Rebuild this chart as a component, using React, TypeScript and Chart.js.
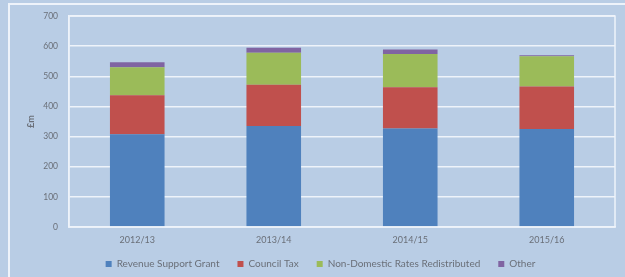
import React, { useEffect, useRef } from "react";
import { Chart, registerables } from "chart.js";

Chart.register(...registerables);

const categories = ["2012/13", "2013/14", "2014/15", "2015/16"];
const revenueSupportGrant = [308, 335, 327, 325];
const councilTax = [129, 137, 137, 141];
const nonDomesticRates = [93, 106, 110, 101];
const other = [17, 17, 15, 3];
const yTicks = [0, 100, 200, 300, 400, 500, 600, 700];

const BG = "#b9cde5";
const TEXT = "#6a6f78";
const FONT = "Lato, 'Open Sans', sans-serif";

const frame = {
  id: "frame",
  afterLayout(chart: any) {
    // nudge legend row (legend padding also sets horizontal gaps)
    const lg = chart.legend;
    if (lg) {
      lg.top -= 6;
      lg.bottom -= 6;
      lg.left += 13;
      lg.right += 13;
    }
  },
  afterDraw(chart: any) {
    const { ctx, chartArea } = chart;
    ctx.save();
    ctx.strokeStyle = "#eef3fa";
    ctx.lineWidth = 1.5;
    ctx.strokeRect(chartArea.left, chartArea.top, chartArea.right - chartArea.left, chartArea.bottom - chartArea.top);
    ctx.restore();
  },
};

export default function App() {
  const ref = useRef<HTMLCanvasElement>(null);
  useEffect(() => {
    const chart = new Chart(ref.current as HTMLCanvasElement, {
      type: "bar",
      data: {
        labels: categories,
        datasets: [
          { label: "Revenue Support Grant", data: revenueSupportGrant, backgroundColor: "#4f81bd" },
          { label: "Council Tax", data: councilTax, backgroundColor: "#c0504d" },
          { label: "Non-Domestic Rates Redistributed", data: nonDomesticRates, backgroundColor: "#9bbb59" },
          { label: "Other", data: other, backgroundColor: "#8064a2" },
        ],
      },
      options: {
        animation: false,
        responsive: false,
        maintainAspectRatio: false,
        layout: { padding: { top: 7, left: 0, right: 10, bottom: 6 } },
        datasets: { bar: { barPercentage: 0.4, categoryPercentage: 1 } },
        scales: {
          x: {
            stacked: true,
            grid: { display: false },
            border: { display: true, color: "#eef3fa", width: 1.5 },
            ticks: { color: TEXT, font: { family: FONT, size: 9 }, padding: 0 },
            afterFit: (s: any) => { s.height = 20; },
          },
          y: {
            stacked: true,
            min: 0,
            max: 700,
            afterBuildTicks: (s: any) => { s.ticks = yTicks.map((v) => ({ value: v })); },
            grid: { color: "#eef3fa", lineWidth: 1.5, drawTicks: false },
            border: { display: true, color: "#eef3fa", width: 1.5 },
            ticks: { color: TEXT, font: { family: FONT, size: 8.5 }, padding: 11 },
            title: { display: true, text: "£m", color: TEXT, font: { family: FONT, size: 9, weight: "bold" }, padding: { top: 26, bottom: 0 } },
            afterFit: (s: any) => { s.width = 69; },
          },
        },
        plugins: {
          legend: {
            position: "bottom",
            labels: {
              color: TEXT,
              font: { family: FONT, size: 10 },
              boxWidth: 6,
              boxHeight: 6,
              padding: 18,
            },
          },
          tooltip: { enabled: false },
        },
      },
      plugins: [frame],
    });
    return () => chart.destroy();
  }, []);

  return (
    <div style={{ position: "fixed", left: 0, top: 0, width: 625, height: 277, background: BG, overflow: "hidden" }}>
      <div style={{ position: "absolute", left: 8, top: 3, width: 640, height: 300, borderLeft: "2px solid #eef3fa", borderTop: "2px solid #eef3fa" }} />
      <canvas ref={ref} width={625} height={291} style={{ position: "absolute", left: 0, top: 0, width: 625, height: 291 }} />
    </div>
  );
}
